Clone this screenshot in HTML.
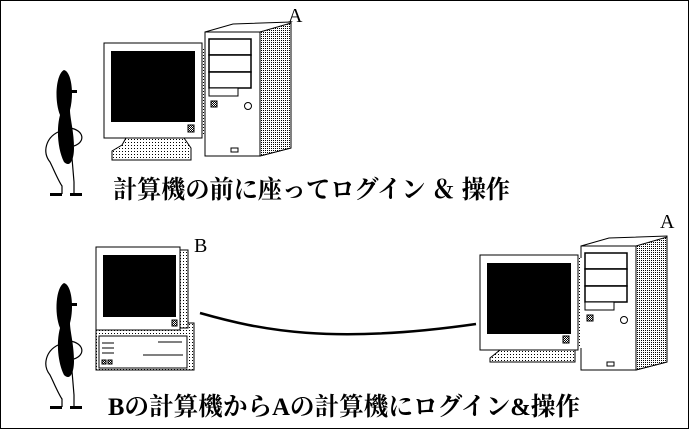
<!DOCTYPE html>
<html><head><meta charset="utf-8"><style>
html,body{margin:0;padding:0;background:#fff}
svg{display:block}
text{font-family:"Liberation Serif","Noto Serif CJK SC","Noto Sans CJK JP",serif}
</style></head><body>
<svg width="689" height="429" viewBox="0 0 689 429" xmlns="http://www.w3.org/2000/svg">
<defs>
<pattern id="dots" width="3" height="3" patternUnits="userSpaceOnUse"><rect width="3" height="3" fill="#fff"/><rect width="1" height="1" fill="#000"/></pattern>
<pattern id="side" width="2" height="2" patternUnits="userSpaceOnUse"><rect width="2" height="2" fill="#fff"/><rect width="1" height="1" fill="#000"/></pattern>
<pattern id="dense" width="2" height="2" patternUnits="userSpaceOnUse"><rect width="2" height="2" fill="#fff"/><rect width="1" height="1" fill="#000"/><rect x="1" y="1" width="1" height="1" fill="#000"/></pattern>
<g id="person">
<path d="M14,62 C2,68 -2,82 6,92 C10,100 14,110 18,116 L18,124" fill="none" stroke="#000" stroke-width="1.2"/>
<path d="M26,58 C40,60 42,72 30,76" fill="none" stroke="#000" stroke-width="1.2"/>
<path d="M28,88 L30,112 L30,124" fill="none" stroke="#000" stroke-width="1.2"/>
<path d="M20,0 C12,4 10,30 16,45 C12,60 14,80 20,92 C26,98 30,90 30,78 C30,62 26,48 26,40 C30,25 28,2 20,0Z" fill="#000"/>
<rect x="27" y="20" width="6" height="3" fill="#000"/>
<rect x="6" y="123" width="12" height="3" fill="#000"/>
<rect x="26" y="123" width="12" height="3" fill="#000"/>
</g>
<g id="tower">
<path d="M0,10 L28,2 L86,0 L86,126 L55,134 L0,134Z" fill="#fff" stroke="#000"/>
<path d="M55,10 L86,1 L86,126 L55,134Z" fill="url(#side)" stroke="#000"/>
<rect x="0" y="10" width="55" height="124" fill="#fff" stroke="#000"/>
<rect x="4" y="17" width="42" height="16" fill="#fff" stroke="#000" stroke-width="1.5"/>
<rect x="4" y="33" width="42" height="17" fill="#fff" stroke="#000" stroke-width="1.5"/>
<rect x="4" y="50" width="42" height="16" fill="#fff" stroke="#000" stroke-width="1.5"/>
<rect x="4" y="66" width="29" height="8" fill="#fff" stroke="#000"/>
<rect x="6" y="79" width="6" height="6" fill="url(#dense)" stroke="#000"/>
<circle cx="43" cy="84" r="3.5" fill="#fff" stroke="#000"/>
<rect x="26" y="126" width="7" height="4" fill="#fff" stroke="#000"/>
</g>
<g id="mon">
<path d="M22,95 L18,102 L8,108 L8,117 L87,117 L87,105 L80,95Z" fill="url(#dots)" stroke="#000"/>
<rect x="98" y="5" width="4" height="88" fill="url(#dots)"/>
<rect x="0" y="0" width="98" height="95" fill="#fff" stroke="#000"/>
<rect x="7" y="8" width="84" height="71" fill="#000"/>
<rect x="84" y="82" width="6" height="7" fill="url(#dense)" stroke="#000"/>
</g>
</defs>
<rect x="0.5" y="0.5" width="688" height="428" fill="#fff" stroke="#000"/>
<use href="#person" x="44" y="70"/>
<use href="#mon" x="104" y="43"/>
<use href="#tower" x="205" y="22"/>
<text x="288" y="22" font-size="20">A</text>
<text x="113" y="198" font-size="25" font-weight="bold" textLength="397" lengthAdjust="spacingAndGlyphs" font-family="'Noto Sans CJK JP',sans-serif">計算機の前に座ってログイン ＆ 操作</text>
<use href="#person" x="44" y="283"/>
<rect x="96" y="323" width="98" height="47" fill="url(#dots)" stroke="#000"/>
<rect x="99" y="336" width="88" height="32" fill="#fff" stroke="#000"/>
<path d="M102,343h12M102,348h12M102,353h12M158,342h24M143,355h40" stroke="#000"/>
<rect x="102" y="360" width="4" height="4" fill="url(#dense)" stroke="#000"/><rect x="108" y="360" width="4" height="4" fill="url(#dense)" stroke="#000"/>
<rect x="180" y="250" width="8" height="78" fill="url(#dots)" stroke="#000"/>
<rect x="96" y="247" width="84" height="83" fill="#fff" stroke="#000"/>
<rect x="103" y="255" width="73" height="62" fill="#000"/>
<rect x="172" y="320" width="5" height="6" fill="url(#dense)" stroke="#000"/>
<text x="194" y="252" font-size="20">B</text>
<path d="M200,313 C260,330 330,345 476,324" fill="none" stroke="#000" stroke-width="2.5"/>
<use href="#tower" x="581" y="236"/>
<path d="M500,350 L490,358 L490,362 L575,362 L575,350Z" fill="url(#dots)" stroke="#000"/>
<rect x="578" y="258" width="4" height="90" fill="url(#dots)"/>
<rect x="480" y="255" width="98" height="95" fill="#fff" stroke="#000"/>
<rect x="487" y="263" width="84" height="71" fill="#000"/>
<rect x="563" y="336" width="6" height="7" fill="url(#dense)" stroke="#000"/>
<text x="660" y="228" font-size="20">A</text>
<text x="108" y="415" font-size="25" font-weight="bold" textLength="472" lengthAdjust="spacingAndGlyphs" font-family="'Noto Sans CJK JP',sans-serif">Bの計算機からAの計算機にログイン&amp;操作</text>
</svg>
</body></html>
